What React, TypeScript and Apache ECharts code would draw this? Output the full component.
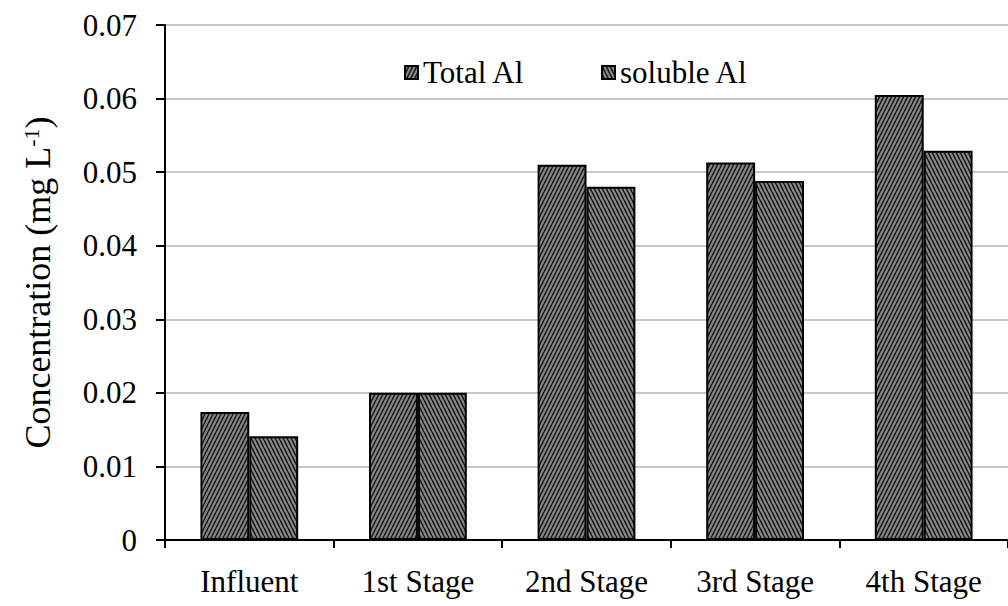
import React, { useEffect, useRef } from "react";
import * as echarts from "echarts";

const categories = ["Influent", "1st Stage", "2nd Stage", "3rd Stage", "4th Stage"];
const totalAl = [0.0174, 0.02, 0.051, 0.0513, 0.0605];
const solubleAl = [0.0141, 0.02, 0.048, 0.0488, 0.0529];
const yTicks = { min: 0, max: 0.07, interval: 0.01 };

const FONT = "Liberation Serif";
const FS = 31;
const TITLE_FS = 36;

function makeHatch(forward: boolean): HTMLCanvasElement {
  const w = 4;
  const h = 8;
  const c = document.createElement("canvas");
  c.width = w;
  c.height = h;
  const ctx = c.getContext("2d")!;
  ctx.fillStyle = "#8a8a8a";
  ctx.fillRect(0, 0, w, h);
  ctx.strokeStyle = "#1a1a1a";
  ctx.lineWidth = 1.6;
  for (let k = -1; k <= 1; k++) {
    ctx.beginPath();
    if (forward) {
      ctx.moveTo(k * w, h);
      ctx.lineTo(k * w + w, 0);
    } else {
      ctx.moveTo(k * w, 0);
      ctx.lineTo(k * w + w, h);
    }
    ctx.stroke();
  }
  return c;
}

export default function App() {
  const ref = useRef<HTMLDivElement>(null);
  useEffect(() => {
    if (!ref.current) return;
    const chart = echarts.init(ref.current, null, { renderer: "svg" });
    const fwd = makeHatch(true);
    const back = makeHatch(false);
    chart.setOption({
      animation: false,
      textStyle: { fontFamily: FONT },
      legend: {
        top: 52,
        left: 399,
        icon: "rect",
        itemWidth: 13,
        itemHeight: 13,
        itemGap: 76,
        textStyle: { fontFamily: FONT, fontSize: FS, color: "#000" },
        data: ["Total Al", "soluble Al"],
      },
      grid: { left: 165, right: -11, top: 25, bottom: 66, containLabel: false },
      xAxis: {
        type: "category",
        data: categories,
        axisLine: { lineStyle: { color: "#000", width: 2 } },
        axisTick: { show: true, length: 8, inside: false, alignWithLabel: false, lineStyle: { color: "#000", width: 2 } },
        axisLabel: { fontFamily: FONT, fontSize: FS, color: "#000", margin: 26 },
      },
      yAxis: {
        type: "value",
        min: yTicks.min,
        max: yTicks.max,
        interval: yTicks.interval,
        axisLine: { show: true, lineStyle: { color: "#000", width: 2 } },
        axisTick: { show: true, length: 9, lineStyle: { color: "#000", width: 2 } },
        axisLabel: {
          fontFamily: FONT,
          fontSize: FS,
          color: "#000",
          margin: 28,
          formatter: (v: number) => (v === 0 ? "0" : v.toFixed(2)),
        },
        splitLine: { show: true, lineStyle: { color: "#c8c8c8", width: 2 } },
        name: "{a|Concentration (mg L}{s|-1}{a|)}",
        nameLocation: "middle",
        nameRotate: 90,
        nameGap: 109,
        nameTextStyle: {
          rich: {
            a: { fontFamily: FONT, fontSize: TITLE_FS, color: "#000" },
            s: { fontFamily: FONT, fontSize: 22, color: "#000", verticalAlign: "top", padding: [0, 0, 14, 0] },
          },
        },
      },
      series: [
        {
          name: "Total Al",
          type: "bar",
          data: totalAl,
          barGap: "0%",
          barCategoryGap: "42%",
          itemStyle: {
            color: { image: fwd, repeat: "repeat" },
            borderColor: "#000",
            borderWidth: 2,
          },
        },
        {
          name: "soluble Al",
          type: "bar",
          data: solubleAl,
          barGap: "0%",
          barCategoryGap: "42%",
          itemStyle: {
            color: { image: back, repeat: "repeat" },
            borderColor: "#000",
            borderWidth: 2,
          },
        },
      ],
    });
    return () => chart.dispose();
  }, []);
  return (
    <div
      ref={ref}
      style={{ position: "absolute", left: 0, top: 0, width: 1008, height: 606, background: "#fff" }}
    />
  );
}
